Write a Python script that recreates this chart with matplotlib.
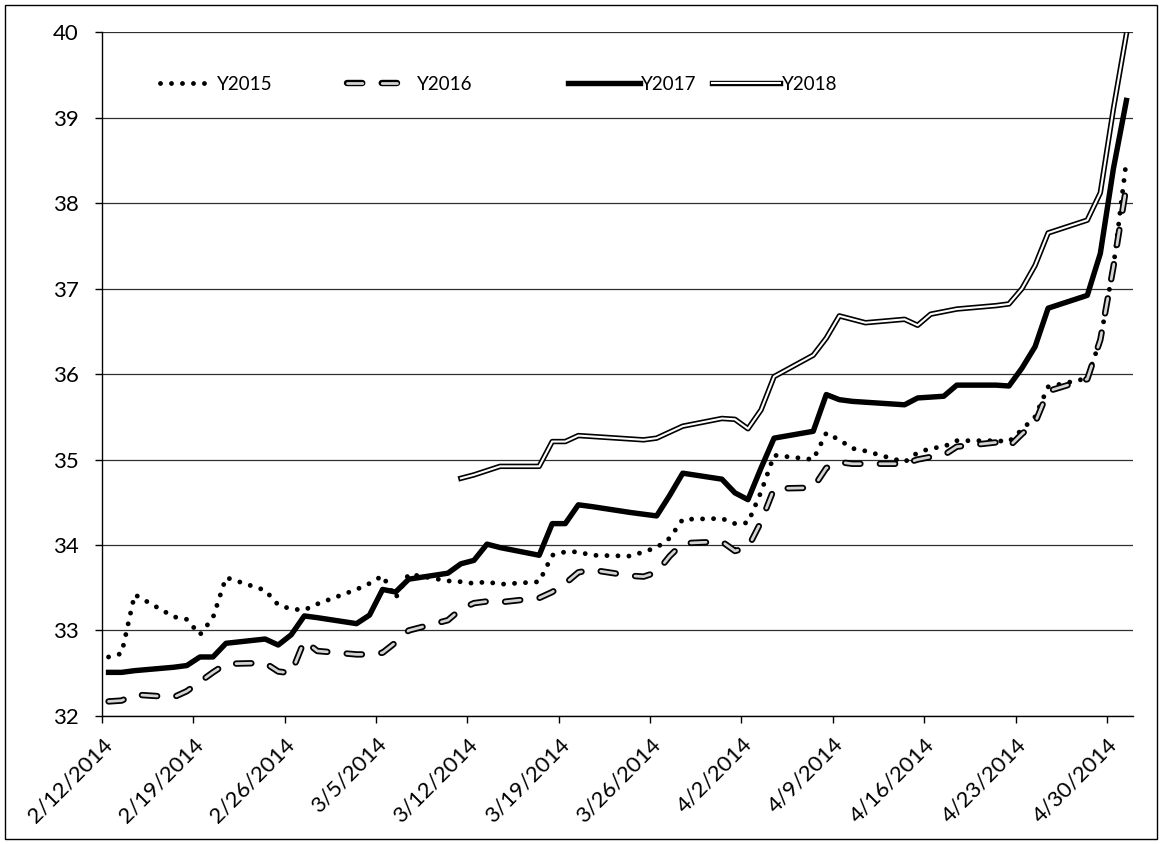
import numpy as np
import pandas as pd
import matplotlib
matplotlib.use('Agg')
import matplotlib.pyplot as plt
import matplotlib.patheffects as pe
from matplotlib.legend import Legend
from matplotlib.patches import Rectangle

plt.rcParams['font.family'] = ['Lato', 'DejaVu Sans']
plt.rcParams['lines.scale_dashes'] = False

# trading days, Feb 12 - May 1 2014
dates = pd.bdate_range('2014-02-12', '2014-05-01')
tick_dates = pd.date_range('2014-02-12', '2014-04-30', freq='7D')
tick_labels = [f'{d.month}/{d.day}/{d.year}' for d in tick_dates]
y_ticks = list(range(32, 41))

y2015 = [32.69, 32.73, 33.42, 33.16, 33.13, 32.95, 33.15, 33.62, 33.47, 33.30,
         33.25, 33.24, 33.31, 33.48, 33.55, 33.64, 33.38, 33.66, 33.58, 33.57,
         33.55, 33.57, 33.54, 33.57, 33.88, 33.92, 33.92, 33.88, 33.87, 33.92,
         33.97, 34.08, 34.30, 34.31, 34.25, 34.26, 34.62, 35.05, 35.00, 35.31,
         35.23, 35.13, 35.10, 34.97, 35.08, 35.13, 35.15, 35.22, 35.22, 35.21,
         35.35, 35.50, 35.85, 35.95, 36.40, 37.25, 38.50]
y2016 = [32.17, 32.18, 32.25, 32.22, 32.29, 32.40, 32.51, 32.61, 32.62, 32.52,
         32.50, 32.88, 32.76, 32.72, 32.72, 32.74, 32.86, 33.00, 33.12, 33.25,
         33.32, 33.34, 33.33, 33.38, 33.45, 33.55, 33.68, 33.71, 33.64, 33.63,
         33.68, 33.87, 34.02, 34.04, 33.93, 33.97, 34.27, 34.66, 34.67, 34.90,
         34.97, 34.95, 34.95, 34.95, 35.00, 35.03, 35.05, 35.15, 35.20, 35.15,
         35.30, 35.43, 35.80, 35.94, 36.40, 37.25, 38.20]
y2017 = [32.51, 32.51, 32.53, 32.57, 32.59, 32.69, 32.69, 32.85, 32.90, 32.83,
         32.95, 33.17, 33.15, 33.08, 33.18, 33.48, 33.45, 33.60, 33.67, 33.78,
         33.82, 34.01, 33.97, 33.88, 34.25, 34.25, 34.47, 34.45, 34.38, 34.36,
         34.34, 34.58, 34.84, 34.77, 34.61, 34.53, 34.90, 35.25, 35.33, 35.76,
         35.70, 35.68, 35.67, 35.64, 35.72, 35.73, 35.74, 35.87, 35.87, 35.86,
         36.07, 36.32, 36.77, 36.92, 37.41, 38.40, 39.20]
y2018 = [np.nan] * 19 + [
         34.78, 34.82, 34.87, 34.92, 34.92, 35.21, 35.21, 35.28, 35.27, 35.24,
         35.23, 35.25, 35.32, 35.39, 35.48, 35.47, 35.36, 35.58, 35.97, 36.22,
         36.42, 36.68, 36.64, 36.60, 36.64, 36.57, 36.70, 36.73, 36.76, 36.80,
         36.82, 37.00, 37.27, 37.65, 37.80, 38.12, 39.10, 39.98]

# excel date axis puts each point in the middle of its day slot
x = dates + pd.Timedelta(hours=12)

fig = plt.figure(figsize=(11.62, 8.44), dpi=100)
ax = fig.add_axes([0.0878, 0.1517, 0.8872, 0.8103])

l15, = ax.plot(x, y2015, color='black', lw=3.5, ls=(0, (0.01, 7.9)),
               dash_capstyle='round', zorder=3)
# double-outlined long dash
l16, = ax.plot(x, y2016, color='#d4d4d4', lw=2.0, ls=(0, (11, 14)),
               dash_capstyle='round', zorder=3,
               path_effects=[pe.Stroke(linewidth=4.6, foreground='black'),
                             pe.Normal()])
l17, = ax.plot(x, y2017, color='black', lw=3.9, zorder=3)
# double line
l18, = ax.plot(x, y2018, color='white', lw=1.5, zorder=3,
               path_effects=[pe.Stroke(linewidth=3.9, foreground='black'),
                             pe.Normal()])

ax.set_xlim(pd.Timestamp('2014-02-12'), pd.Timestamp('2014-05-02'))
ax.set_ylim(32, 40)
ax.set_yticks(y_ticks)
ax.set_xticks(tick_dates)
ax.set_xticklabels(tick_labels, rotation=45, ha='right', va='top',
                   rotation_mode='anchor')
ax.yaxis.grid(True, color='#303030', lw=0.9)
ax.set_axisbelow(True)
for s in ['top', 'right']:
    ax.spines[s].set_visible(False)
for s in ['left', 'bottom']:
    ax.spines[s].set_linewidth(1.0)
ax.tick_params(axis='both', direction='out', length=5, width=1,
               labelsize=16, colors='black')
ax.tick_params(axis='y', pad=12)
ax.tick_params(axis='x', pad=8)

# legend entries placed one by one, as in the excel layout
entries = [(l15, 'Y2015', 0.056, 2.8, 0.25),
           (l16, 'Y2016', 0.238, 3.3, 0.4),
           (l17, 'Y2017', 0.452, 3.85, 0.05),
           (l18, 'Y2018', 0.592, 3.6, 0.1)]
for h, lab, xa, hl, tp in entries:
    leg = Legend(ax, [h], [lab], loc='center left', bbox_to_anchor=(xa, 0.924),
                 frameon=False, fontsize=13.5, handlelength=hl,
                 handletextpad=tp, borderpad=0, borderaxespad=0)
    ax.add_artist(leg)

# chart area border
fig.patches.append(Rectangle((0.004, 0.006), 0.992, 0.988, fill=False,
                             ec='black', lw=1.0, transform=fig.transFigure))

fig.savefig('out.png', dpi=100)
